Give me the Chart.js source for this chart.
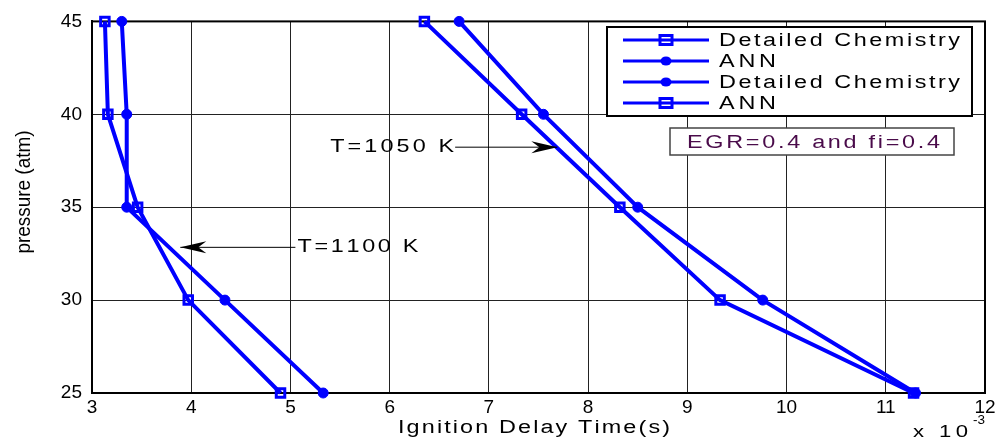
<!DOCTYPE html>
<html>
<head>
<meta charset="utf-8">
<script src="https://cdn.jsdelivr.net/npm/chart.js@4/dist/chart.umd.min.js"></script>
<style>
    html, body { margin: 0; padding: 0; background: #fff; }
    #wrap { width: 1001px; height: 439px; }
</style>
</head>
<body>
<div id="wrap"><canvas id="grafico"></canvas></div>
<script>
// datos (tiempo en ms, presion en atm)
const presion = [45, 40, 35, 30, 25];
const detallada1100 = [3.13, 3.16, 3.46, 3.97, 4.90];
const ann1100 = [3.30, 3.35, 3.35, 4.34, 5.33];
const detallada1050 = [6.70, 7.55, 8.50, 9.76, 11.30];
const ann1050 = [6.35, 7.33, 8.32, 9.33, 11.28];
const ticksX = [3, 4, 5, 6, 7, 8, 9, 10, 11, 12];
const ticksY = [25, 30, 35, 40, 45];
const etiquetas = ["Detailed Chemistry", "ANN", "Detailed Chemistry", "ANN"];

const azul = "#0000ff";
const fuente = "'Liberation Sans', Arial, sans-serif";

function puntos(valores) {
    return valores.map((v, i) => ({ x: v, y: presion[i] }));
}

function serie(label, valores, estilo) {
    let cuadrado = estilo === "rect";
    return {
        label: label,
        data: puntos(valores),
        borderColor: azul,
        borderWidth: 4,
        pointStyle: estilo,
        pointRadius: cuadrado ? 6 : 5,
        pointBorderWidth: cuadrado ? 3 : 1,
        pointBorderColor: azul,
        pointBackgroundColor: cuadrado ? "rgba(0,0,0,0)" : azul,
        clip: false,
        tension: 0
    };
}

// texto ensanchado + espaciado para imitar el render de MATLAB
function textoEspaciado(ctx, texto, x, y, ancho, alinear) {
    let letras = Array.from(texto);
    let anchos = letras.map(c => ctx.measureText(c).width);
    let total = anchos.reduce((a, b) => a + b, 0);
    let k = Math.min(ancho / total, 1.3);
    let esp = letras.length > 1 ? (ancho - total * k) / (letras.length - 1) : 0;
    let cx = alinear === "center" ? x - ancho / 2 : x;
    ctx.textAlign = "left";
    letras.forEach((c, i) => {
        ctx.save();
        ctx.translate(cx, y);
        ctx.scale(k, 1);
        ctx.fillText(c, 0, 0);
        ctx.restore();
        cx += anchos[i] * k + esp;
    });
}

function marcador(ctx, estilo, x, y) {
    ctx.fillStyle = azul;
    ctx.strokeStyle = azul;
    if (estilo === "rect") {
        ctx.lineWidth = 3;
        ctx.strokeRect(x - 6, y - 4.5, 12, 9);
    } else {
        ctx.beginPath();
        ctx.ellipse(x, y, 5.5, 4.5, 0, 0, Math.PI * 2);
        ctx.fill();
    }
}

function flecha(ctx, x0, y0, x1, y1) {
    let dir = x1 > x0 ? 1 : -1;
    ctx.strokeStyle = "#000";
    ctx.fillStyle = "#000";
    ctx.lineWidth = 1;
    ctx.beginPath();
    ctx.moveTo(x0, y0);
    ctx.lineTo(x1, y1);
    ctx.stroke();
    ctx.beginPath();
    ctx.moveTo(x1, y1);
    ctx.lineTo(x1 - dir * 26, y1 - 6);
    ctx.lineTo(x1 - dir * 18, y1);
    ctx.lineTo(x1 - dir * 26, y1 + 6);
    ctx.closePath();
    ctx.fill();
}

const estilos = ["rect", "circle", "circle", "rect"];

const marco = {
    id: "marco",
    beforeDatasetsDraw(chart) {
        let { ctx, chartArea: a } = chart;
        ctx.save();
        ctx.strokeStyle = "#000";
        ctx.lineWidth = 2;
        ctx.strokeRect(a.left, a.top, a.right - a.left, a.bottom - a.top);
        ctx.restore();
    },
    afterDraw(chart) {
        let { ctx, chartArea: a } = chart;
        let sx = chart.scales.x, sy = chart.scales.y;
        ctx.save();
        ctx.fillStyle = "#000";
        ctx.textBaseline = "alphabetic";

        // titulo eje x
        ctx.font = "18px " + fuente;
        textoEspaciado(ctx, "Ignition Delay Time(s)", 534, 433, 272, "center");

        // x 10^-3
        ctx.font = "17px " + fuente;
        textoEspaciado(ctx, "x 10", a.right - 72, 437, 55, "left");
        ctx.font = "13px " + fuente;
        textoEspaciado(ctx, "-3", a.right - 12, 424, 12, "left");

        // titulo eje y (fuente angosta)
        ctx.save();
        ctx.translate(24, 192);
        ctx.rotate(-Math.PI / 2);
        ctx.font = "20px 'Liberation Sans Narrow', 'Liberation Sans', Arial, sans-serif";
        let w = ctx.measureText("pressure (atm)").width;
        ctx.scale(123 / w, 1);
        ctx.textAlign = "center";
        ctx.textBaseline = "middle";
        ctx.fillText("pressure (atm)", 0, 0);
        ctx.restore();

        // anotaciones de temperatura
        ctx.font = "18px " + fuente;
        ctx.textBaseline = "middle";
        let y1050 = sy.getPixelForValue(38.23);
        textoEspaciado(ctx, "T=1050 K", sx.getPixelForValue(5.40), y1050, 124, "left");
        flecha(ctx, sx.getPixelForValue(6.66), y1050, sx.getPixelForValue(7.69), y1050);
        let y1100 = sy.getPixelForValue(32.84);
        textoEspaciado(ctx, "T=1100 K", sx.getPixelForValue(5.07), y1100, 121, "left");
        flecha(ctx, sx.getPixelForValue(5.05), y1100, sx.getPixelForValue(3.89), y1100);

        // leyenda
        let lx = 607, ly = 27, lw = 365, lh = 89;
        ctx.fillStyle = "#fff";
        ctx.fillRect(lx, ly, lw, lh);
        ctx.strokeStyle = "#000";
        ctx.lineWidth = 2;
        ctx.strokeRect(lx, ly, lw, lh);
        etiquetas.forEach((t, i) => {
            let y = 40 + i * 21;
            ctx.strokeStyle = azul;
            ctx.lineWidth = 3;
            ctx.beginPath();
            ctx.moveTo(623, y);
            ctx.lineTo(709, y);
            ctx.stroke();
            marcador(ctx, estilos[i], 666, y);
            ctx.fillStyle = "#000";
            ctx.font = "18px " + fuente;
            ctx.textBaseline = "middle";
            let ancho = t.length > 3 ? 241 : 57;
            textoEspaciado(ctx, t, 719, y + 1, ancho, "left");
        });

        // caja EGR
        ctx.fillStyle = "#fff";
        ctx.fillRect(670, 128, 284, 27);
        ctx.strokeStyle = "#444";
        ctx.lineWidth = 1.5;
        ctx.strokeRect(670, 128, 284, 27);
        ctx.fillStyle = "#4a0b4a";
        ctx.font = "18px " + fuente;
        textoEspaciado(ctx, "EGR=0.4 and fi=0.4", 687, 143, 253, "left");

        ctx.restore();
    }
};

new Chart(document.getElementById("grafico"), {
    type: "line",
    data: {
        datasets: [
            serie(etiquetas[0], detallada1100, estilos[0]),
            serie(etiquetas[1], ann1100, estilos[1]),
            serie(etiquetas[2], detallada1050, estilos[2]),
            serie(etiquetas[3], ann1050, estilos[3])
        ]
    },
    options: {
        responsive: true,
        maintainAspectRatio: false,
        animation: false,
        layout: { padding: { top: 18, right: 16, left: 0, bottom: 0 } },
        plugins: {
            legend: { display: false },
            tooltip: { enabled: false }
        },
        scales: {
            x: {
                type: "linear",
                min: ticksX[0],
                max: ticksX[ticksX.length - 1],
                afterBuildTicks: s => { s.ticks = ticksX.map(v => ({ value: v })); },
                afterFit: s => { s.height = 46; },
                ticks: { color: "#000", font: { family: fuente, size: 19 }, padding: 3, maxRotation: 0 },
                grid: { color: "#222", lineWidth: 1, drawTicks: false },
                border: { color: "#000", width: 2 }
            },
            y: {
                type: "linear",
                min: ticksY[0],
                max: ticksY[ticksY.length - 1],
                afterBuildTicks: s => { s.ticks = ticksY.map(v => ({ value: v })); },
                afterFit: s => { s.width = 92; },
                ticks: { color: "#000", font: { family: fuente, size: 19 }, padding: 10 },
                grid: { color: "#222", lineWidth: 1, drawTicks: false },
                border: { color: "#000", width: 2 }
            }
        }
    },
    plugins: [marco]
});
</script>
</body>
</html>
